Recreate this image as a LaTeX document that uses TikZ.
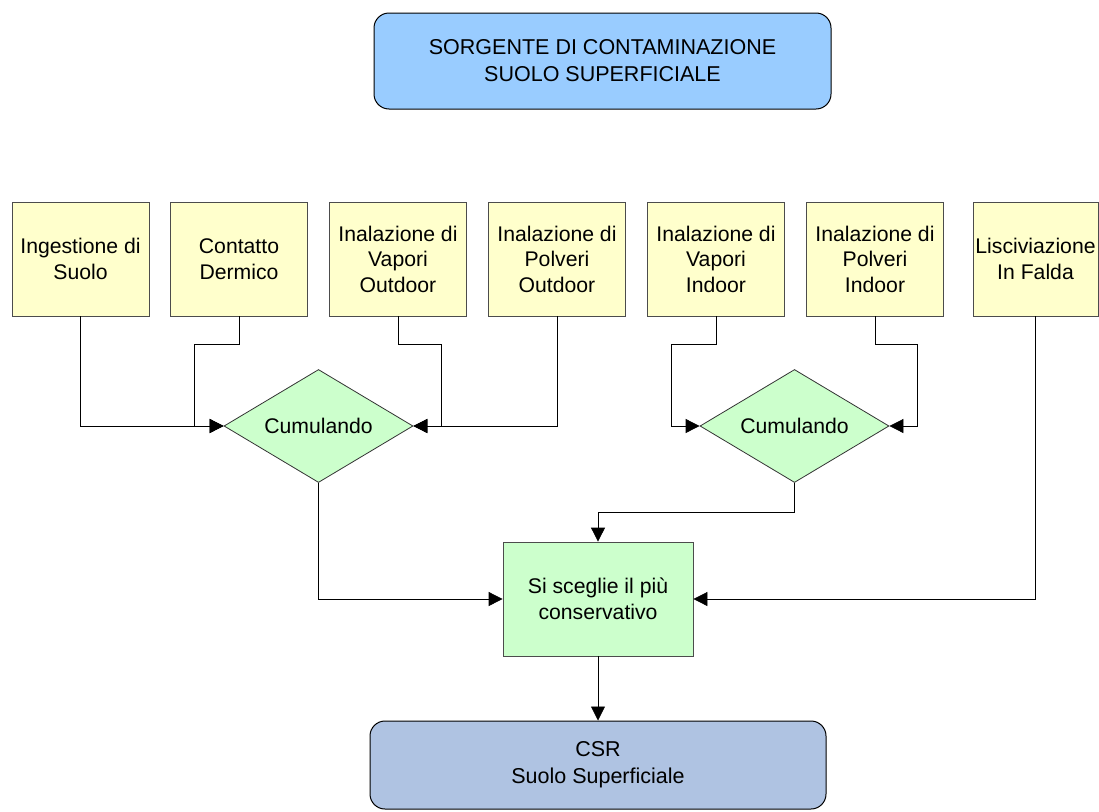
\documentclass[tikz,border=0pt]{standalone}
\usepackage{fontspec}
\setmainfont{Liberation Sans}
\usetikzlibrary{shapes.geometric,arrows.meta}

\definecolor{srcblue}{HTML}{99CCFF}
\definecolor{pathyellow}{HTML}{FFFFCC}
\definecolor{stepgreen}{HTML}{CCFFCC}
\definecolor{csrblue}{HTML}{AFC3E2}

\tikzset{
	pathbox/.style={draw=black!70,fill=pathyellow,line width=0.8pt,minimum width=137pt,minimum height=114pt,inner sep=0pt,align=center,font=\fontsize{21.2}{25.5}\selectfont},
	endbox/.style={draw=black,line width=1pt,rounded corners=15pt,inner sep=0pt,align=center,font=\fontsize{21.5}{27}\selectfont},
	cumbox/.style={diamond,aspect=1.67,draw=black!80,fill=stepgreen,line width=0.8pt,minimum width=189pt,minimum height=113pt,inner sep=0pt,font=\fontsize{21.2}{25}\selectfont},
	link/.style={draw=black,line width=0.8pt,-{Triangle[length=14pt,width=14pt]}}
}

\begin{document}
\begin{tikzpicture}[x=1pt,y=-1pt]
	\useasboundingbox (0,0) rectangle (1099,811);
	% source
	\node[endbox,fill=srcblue,minimum width=457pt,minimum height=96pt] (src) at (602.5,61) {SORGENTE DI CONTAMINAZIONE\\SUOLO SUPERFICIALE};
	% exposure paths
	\node[pathbox] (ing) at (80.5,259) {Ingestione di\\Suolo};
	\node[pathbox] (der) at (239,259) {Contatto\\Dermico};
	\node[pathbox] (vpo) at (398,259) {Inalazione di\\Vapori\\Outdoor};
	\node[pathbox] (ppo) at (557,259) {Inalazione di\\Polveri\\Outdoor};
	\node[pathbox] (vpi) at (716,259) {Inalazione di\\Vapori\\Indoor};
	\node[pathbox] (ppi) at (875,259) {Inalazione di\\Polveri\\Indoor};
	\node[pathbox,minimum width=125pt] (lis) at (1035.5,259) {Lisciviazione\\In Falda};
	% cumulating
	\node[cumbox] (cum1) at (318.5,426) {Cumulando};
	\node[cumbox] (cum2) at (794.5,426) {Cumulando};
	% choice and result
	\node[draw=black!70,fill=stepgreen,line width=0.8pt,minimum width=190pt,minimum height=114pt,inner sep=0pt,align=center,font=\fontsize{21.2}{26}\selectfont] (csc) at (598,599) {Si sceglie il più\\conservativo};
	\node[endbox,fill=csrblue,minimum width=456pt,minimum height=88pt] (csr) at (598,765) {CSR\\Suolo Superficiale};
	% draw connections
	\draw[link] (ing.south) |- (cum1.west);
	\draw[link] (der.south) -- ++(0,28) -| ([xshift=-29pt]cum1.west) -- (cum1.west);
	\draw[link] (vpo.south) -- ++(0,28) -| ([xshift=28pt]cum1.east) -- (cum1.east);
	\draw[link] (ppo.south) |- (cum1.east);
	\draw[link] (vpi.south) -- ++(0,28) -| ([xshift=-28pt]cum2.west) -- (cum2.west);
	\draw[link] (ppi.south) -- ++(0,28) -| ([xshift=28pt]cum2.east) -- (cum2.east);
	\draw[link] (cum1.south) |- (csc.west);
	\draw[link] (cum2.south) -- ++(0,29) -| (csc.north);
	\draw[link] (lis.south) |- (csc.east);
	\draw[link] (csc.south) -- (csr.north);
\end{tikzpicture}
\end{document}
